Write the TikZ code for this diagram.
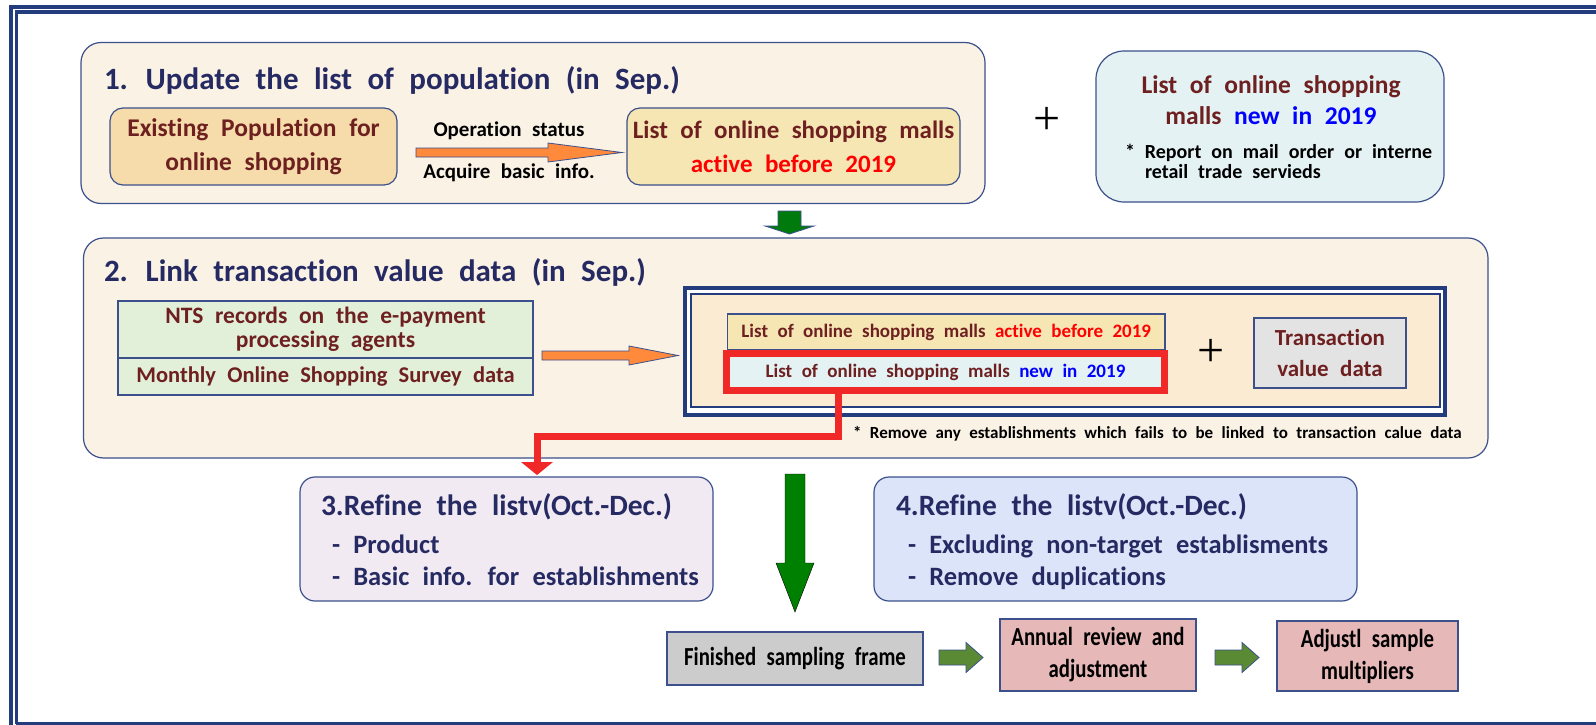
\documentclass[tikz,border=0pt]{standalone}
\usepackage{fontspec}
\setmainfont{Carlito}[WordSpace=2.2, Ligatures=NoCommon]
\newfontfamily\condfont{Carlito}[FakeStretch=0.8, WordSpace=2.2, Ligatures=NoCommon]
\newfontfamily\plusfont{Liberation Serif}
\usetikzlibrary{arrows.meta}
\definecolor{navy}{RGB}{38,42,98}
\definecolor{maroon}{RGB}{110,32,32}
\definecolor{frm}{RGB}{35,60,125}
\definecolor{bord}{RGB}{60,80,140}
\definecolor{cream}{RGB}{251,242,230}
\definecolor{peach}{RGB}{245,220,170}
\definecolor{yel}{RGB}{246,230,180}
\definecolor{cyanl}{RGB}{228,242,244}
\definecolor{greenl}{RGB}{226,239,217}
\definecolor{framein}{RGB}{251,235,210}
\definecolor{grayl}{RGB}{227,227,227}
\definecolor{lav}{RGB}{242,234,242}
\definecolor{bluel}{RGB}{220,228,250}
\definecolor{grayd}{RGB}{204,204,204}
\definecolor{pinkb}{RGB}{230,184,183}
\definecolor{orng}{RGB}{255,138,60}
\definecolor{dgreen}{RGB}{0,122,12}
\definecolor{bgreen}{RGB}{0,128,0}
\definecolor{ogreen}{RGB}{91,138,53}
\definecolor{redl}{RGB}{240,40,40}
\newcommand\fsz[2]{\fontsize{#1}{#2}\selectfont}
\newcommand\rblk[7]{\filldraw[#7] (#1,#3-#4) -- (#2-#6,#3-#4) -- (#2-#6,#3-#5) -- (#2,#3) -- (#2-#6,#3+#5) -- (#2-#6,#3+#4) -- (#1,#3+#4) -- cycle;}
\newcommand\dblk[7]{\filldraw[#7] (#3-#4,#1) -- (#3-#4,#2-#6) -- (#3-#5,#2-#6) -- (#3,#2) -- (#3+#5,#2-#6) -- (#3+#4,#2-#6) -- (#3+#4,#1) -- cycle;}
\tikzset{
  base/.style={inner sep=0pt, outer sep=0pt, font=\bfseries},
  bigbox/.style={base, draw=bord, line width=1.2pt, fill=cream, rounded corners=20pt},
  rbox/.style={base, draw=bord, line width=1.2pt, rounded corners=13pt, align=center, text=maroon},
  sbox/.style={base, draw=bord, line width=1.2pt, align=center, text=maroon},
  title/.style={base, anchor=base west, text=navy, font=\bfseries\fsz{31}{37}},
  btxt/.style={base, anchor=base west, text=black},
  item/.style={base, anchor=base west, text=navy, font=\bfseries\fsz{26.5}{32}},
  plus/.style={base, font=\plusfont\fsz{48}{48}},
  frameline/.style={draw=frm, line width=3.4pt},
  orarrow/.style={fill=orng, draw=bord, line width=0.8pt},
  grarrow/.style={fill=ogreen, draw=bord, line width=0.8pt},
  endbox/.style={sbox, text=black, font=\condfont\bfseries\fsz{26}{32}},
}
\begin{document}
\begin{tikzpicture}[x=1pt, y=-1pt]
\useasboundingbox (0,0) rectangle (1596,725);
\fill[white] (0,0) rectangle (1596,725);
% page frame
\draw[frameline] (11,725) -- (11,7) -- (1596,7);
\draw[frameline] (16.3,723.7) -- (16.3,12) -- (1596,12);
\draw[draw=frm, line width=2.5pt] (16.3,723.7) -- (1596,723.7);

% ===== step 1 =====
\node[bigbox, minimum width=904pt, minimum height=161pt] (b1) at (533,123) {};
\node[title] (t1) at (104,89) {1. Update the list of population (in Sep.)};
\node[rbox, fill=peach, minimum width=287pt, minimum height=77pt, font=\bfseries\fsz{25.5}{34}] (exist) at (253.5,146.5) {Existing Population for\\online shopping};
\node[rbox, fill=yel, minimum width=333pt, minimum height=77pt, font=\bfseries\fsz{25}{34}] (active) at (793.5,146.5) {List of online shopping malls\\{\color{red}active before 2019}};
\rblk{416}{622}{152.5}{4.5}{9.5}{74}{orarrow}
\node[btxt, anchor=base, font=\bfseries\fsz{21}{25}] (ops) at (509,136) {Operation status};
\node[btxt, anchor=base, font=\bfseries\fsz{21}{25}] (acq) at (509,178) {Acquire basic info.};
\node[plus] (p1) at (1047,121) {+};
\node[base, draw=bord, line width=1.2pt, fill=cyanl, rounded corners=28pt, minimum width=348pt, minimum height=151pt] (newlist) at (1270,126.5) {};
\node[base, anchor=base, text=maroon, font=\bfseries\fsz{25.5}{31}] (nl1) at (1271,93) {List of online shopping};
\node[base, anchor=base, text=maroon, font=\bfseries\fsz{25.5}{31}] (nl2) at (1271,124) {malls {\color{blue}new in 2019}};
\node[btxt, font=\bfseries\fsz{20}{24}] (rep1) at (1125,158) {* Report on mail order or interne};
\node[btxt, font=\bfseries\fsz{20}{24}] (rep2) at (1145,178) {retail trade servieds};
\dblk{211}{234}{789.5}{11.5}{24.5}{8}{fill=dgreen, draw=bord, line width=0.8pt}

% ===== step 2 =====
\node[bigbox, minimum width=1404.5pt, minimum height=220pt] (b2) at (785.75,348) {};
\node[title] (t2) at (104,281.5) {2. Link transaction value data (in Sep.)};
\node[sbox, fill=greenl, minimum width=415pt, minimum height=57pt, font=\bfseries\fsz{23.5}{24}] (nts) at (325.5,329.5) {NTS records on the e-payment\\processing agents};
\node[sbox, fill=greenl, minimum width=415pt, minimum height=37pt, font=\bfseries\fsz{22.5}{26}] (mos) at (325.5,376.5) {Monthly Online Shopping Survey data};
\rblk{542}{678}{355.5}{4.5}{9.5}{49}{orarrow}
\node[base, draw=frm, line width=4pt, fill=white, minimum width=760.3pt, minimum height=126.4pt] (dfo) at (1065.15,351.5) {};
\node[base, draw=frm, line width=2pt, fill=framein, minimum width=749.5pt, minimum height=113.2pt] (dfi) at (1065.25,350.6) {};
\node[sbox, fill=yel, minimum width=437.5pt, minimum height=36pt, font=\bfseries\fsz{19}{23}] (act2) at (946.25,332) {List of online shopping malls {\color{red}active before 2019}};
\node[sbox, draw=redl, line width=7pt, fill=cyanl, minimum width=438pt, minimum height=37pt, font=\bfseries\fsz{19}{23}] (newb) at (945.5,372) {List of online shopping malls {\color{blue}new in 2019}};
\node[plus] (p2) at (1211,353) {+};
\node[sbox, fill=grayl, minimum width=152pt, minimum height=70pt, font=\bfseries\fsz{23}{31}] (trans) at (1330,353) {Transaction\\value data};
\node[btxt, font=\bfseries\fsz{17}{20}] (rem) at (853,438) {* Remove any establishments which fails to be linked to transaction calue data};

% ===== steps 3 and 4 =====
\node[base, draw=bord, line width=1.2pt, fill=lav, rounded corners=15pt, minimum width=413pt, minimum height=124pt] (b3) at (506.5,539) {};
\node[title, font=\bfseries\fsz{29.5}{35}] (t3) at (321,515) {3.Refine the listv(Oct.-Dec.)};
\node[item] (i31) at (332,553) {- Product};
\node[item] (i32) at (332,585) {- Basic info. for establishments};
\node[base, draw=bord, line width=1.2pt, fill=bluel, rounded corners=15pt, minimum width=483pt, minimum height=124pt] (b4) at (1115.5,539) {};
\node[title, font=\bfseries\fsz{29.5}{35}] (t4) at (896,515) {4.Refine the listv(Oct.-Dec.)};
\node[item] (i41) at (908,553) {- Excluding non-target establisments};
\node[item] (i42) at (908,585) {- Remove duplications};

% red connector
\coordinate (rc1) at (838,436);
\coordinate (rc2) at (537,436);
\draw[redl, line width=7pt] (newb.south -| rc1) -- (rc1) -- (rc2) -- ([yshift=14pt]b3.north -| rc2);
\fill[redl] ([xshift=-16pt,yshift=15pt]b3.north -| rc2) -- ([xshift=16pt,yshift=15pt]b3.north -| rc2) -- ([yshift=2pt]b3.north -| rc2) -- cycle;

% big green arrow
\dblk{474}{612}{795}{10}{19}{49}{fill=bgreen}

% ===== bottom row =====
\node[endbox, fill=grayd, minimum width=256pt, minimum height=53pt] (fin) at (795,658.5) {Finished sampling frame};
\node[endbox, fill=pinkb, minimum width=196pt, minimum height=72pt] (ann) at (1098,655) {Annual review and\\adjustment};
\node[endbox, fill=pinkb, minimum width=181pt, minimum height=70pt] (adj) at (1367.5,656) {Adjustl sample\\multipliers};
\rblk{939}{983}{657.5}{7.5}{15}{17}{grarrow}
\rblk{1215}{1259}{657.5}{7.5}{15}{17}{grarrow}
\end{tikzpicture}
\end{document}
